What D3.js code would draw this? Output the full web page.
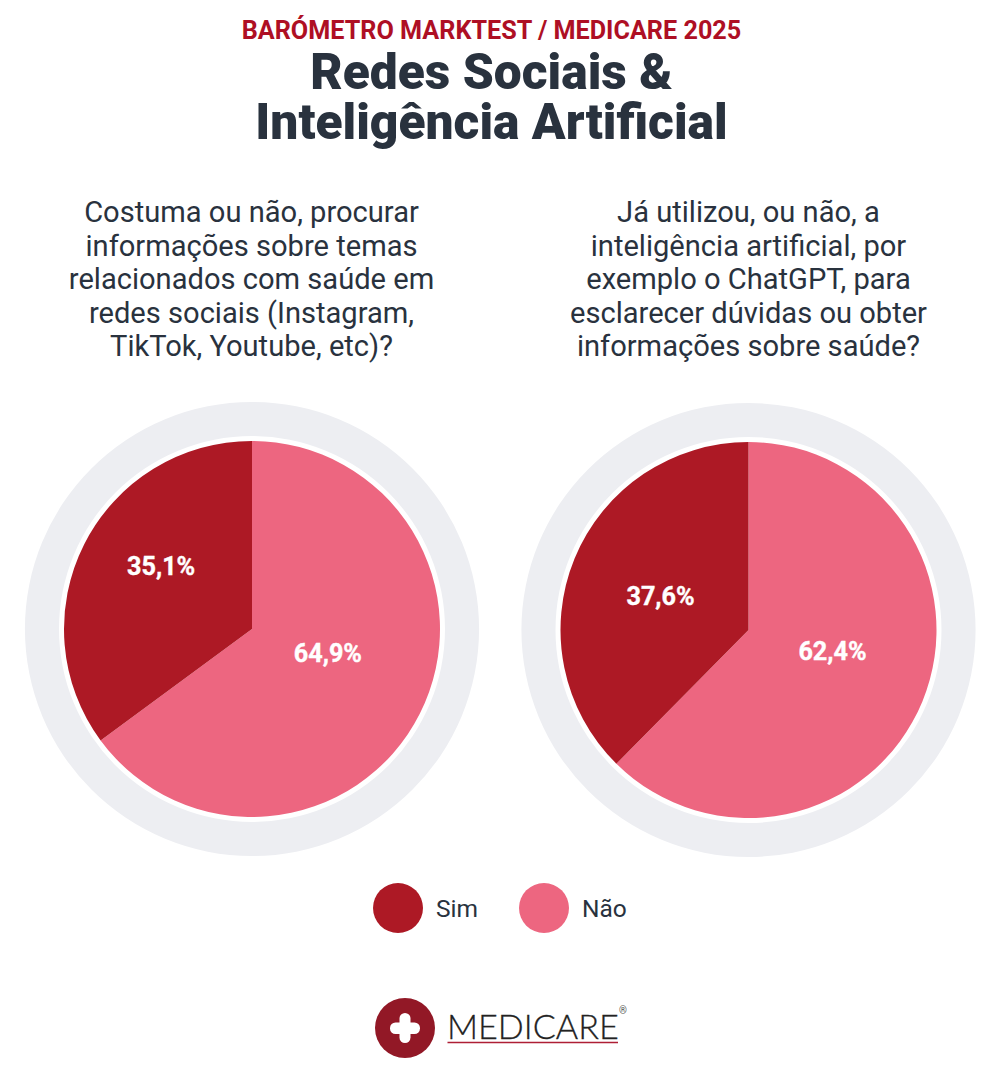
<!DOCTYPE html>
<html>
<head>
<meta charset="utf-8">
<script src="https://cdn.jsdelivr.net/npm/d3@7"></script>
<style>
	html, body { margin: 0; padding: 0; background: #fff; }
	svg { display: block; }
	text { font-family: Roboto, sans-serif; }
</style>
</head>
<body>
<div id="chart"></div>
<script>
var categories = ['Não', 'Sim'];
var valuesRedes = [64.9, 35.1];
var valuesIA = [62.4, 37.6];
var legendLabels = ['Sim', 'Não'];

var kicker = 'BARÓMETRO MARKTEST / MEDICARE 2025';
var titleLines = ['Redes Sociais &', 'Inteligência Artificial'];
var questionRedes = [
	'Costuma ou não, procurar',
	'informações sobre temas',
	'relacionados com saúde em',
	'redes sociais (Instagram,',
	'TikTok, Youtube, etc)?'
];
var questionIA = [
	'Já utilizou, ou não, a',
	'inteligência artificial, por',
	'exemplo o ChatGPT, para',
	'esclarecer dúvidas ou obter',
	'informações sobre saúde?'
];

var svgWidth = 1000;
var svgHeight = 1083;
var radius = 188;
var ringOuter = 227;
var ringInner = 193;

var color = d3.scaleOrdinal().domain(['Sim', 'Não']).range(['#ad1925', '#ed6680']);
var dark = '#29323e';

var svg = d3.select('#chart').append('svg')
	.attr('width', svgWidth)
	.attr('height', svgHeight);

svg.append('text')
	.attr('x', 491.5).attr('y', 39)
	.attr('text-anchor', 'middle')
	.style('font-size', '25.2px').style('font-weight', 700)
	.style('fill', '#ae0f24')
	.text(kicker);

var title = svg.append('text')
	.attr('text-anchor', 'middle')
	.style('font-size', '49.7px').style('font-weight', 900)
	.style('fill', dark);
title.selectAll('tspan').data(titleLines).enter().append('tspan')
	.attr('x', 491.5)
	.attr('y', function(d, i) { return 89 + i * 50; })
	.text(function(d) { return d; });

function drawQuestion(lines, cx) {
	svg.selectAll(null).data(lines).enter().append('text')
		.attr('x', cx)
		.attr('y', function(d, i) { return 222 + i * 33.5; })
		.attr('text-anchor', 'middle')
		.style('font-size', '29.1px')
		.style('fill', dark)
		.text(function(d) { return d; });
}

drawQuestion(questionRedes, 251.5);
drawQuestion(questionIA, 748.5);

var pie = d3.pie().sort(null);
var arc = d3.arc().innerRadius(0).outerRadius(radius);
var ring = d3.arc().innerRadius(ringInner).outerRadius(ringOuter).startAngle(0).endAngle(2 * Math.PI);

function drawPie(values, cx, cy, nudges) {
	var g = svg.append('g').attr('transform', 'translate(' + cx + ',' + cy + ')');
	g.append('path').attr('d', ring()).style('fill', '#edeef2');

	var slices = pie(values);
	g.selectAll('.slice').data(slices).enter().append('path')
		.attr('class', 'slice')
		.attr('d', arc)
		.style('fill', function(d, i) { return color(categories[i]); });

	g.selectAll('.pct').data(slices).enter().append('text')
		.attr('class', 'pct')
		.attr('transform', function(d, i) {
			var c = arc.centroid(d);
			return 'translate(' + (c[0] + nudges[i][0]) + ',' + (c[1] + nudges[i][1]) + ')';
		})
		.attr('dy', '.35em')
		.attr('text-anchor', 'middle')
		.style('font-size', '25.2px').style('font-weight', 700)
		.style('fill', '#fff').style('stroke', '#fff').style('stroke-width', 0.4)
		.text(function(d) { return String(d.value).replace('.', ',') + '%'; });
}

// labels in the reference do not sit on the exact centroid
drawPie(valuesRedes, 252, 629, [[-8, -18], [-7, -20.5]]);
drawPie(valuesIA, 748.5, 630, [[-3, -15], [-1, 2]]);

// legend
var legendX = d3.scalePoint().domain(legendLabels).range([398, 544]);
var legend = svg.selectAll('.legend').data(legendLabels).enter().append('g')
	.attr('class', 'legend')
	.attr('transform', function(d) { return 'translate(' + legendX(d) + ',908)'; });
legend.append('circle').attr('r', 25).style('fill', function(d) { return color(d); });
legend.append('text')
	.attr('x', 38).attr('dy', '.35em')
	.style('font-size', '24.5px')
	.style('fill', dark)
	.text(function(d) { return d; });

// logo
var logo = svg.append('g').attr('class', 'logo');
logo.append('circle').attr('cx', 405).attr('cy', 1028).attr('r', 30).style('fill', '#921826');
logo.append('rect').attr('x', 390).attr('y', 1022.5).attr('width', 30).attr('height', 11.5).attr('rx', 5.5).style('fill', '#fff');
logo.append('rect').attr('x', 399.5).attr('y', 1013).attr('width', 11).attr('height', 30).attr('rx', 5.5).style('fill', '#fff');
logo.append('text')
	.attr('x', 447).attr('y', 1038.5)
	.style('font-family', 'Lato, sans-serif').style('font-size', '34.2px').style('font-weight', 300)
	.style('fill', '#222').style('stroke', '#222').style('stroke-width', 0.3)
	.text('MEDICARE');
logo.append('line')
	.attr('x1', 447.5).attr('x2', 618).attr('y1', 1042.5).attr('y2', 1042.5)
	.style('stroke', '#ae1f35').style('stroke-width', 1.5);
logo.append('text')
	.attr('x', 619).attr('y', 1014)
	.style('font-size', '10px').style('fill', '#555')
	.text('®');
</script>
</body>
</html>
